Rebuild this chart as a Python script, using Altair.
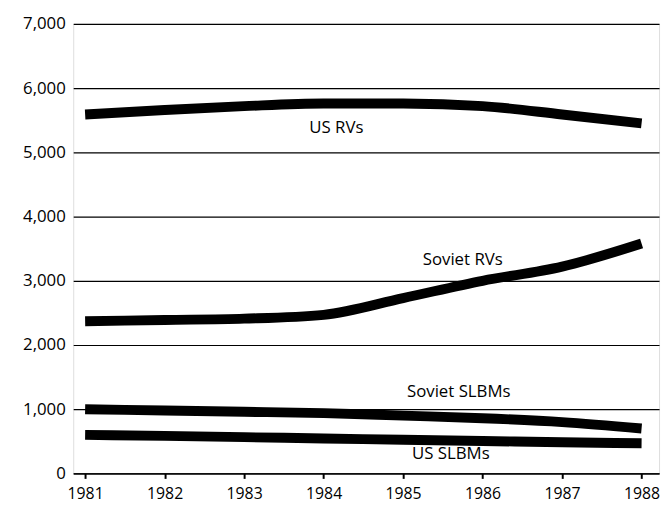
import altair as alt
import pandas as pd

years = [1981, 1982, 1983, 1984, 1985, 1986, 1987, 1988]
us_rvs = [5590, 5660, 5720, 5760, 5760, 5720, 5590, 5450]
soviet_rvs = [2370, 2390, 2410, 2470, 2730, 3000, 3220, 3580]
soviet_slbms = [1000, 980, 960, 940, 900, 860, 800, 700]
us_slbms = [600, 585, 565, 545, 525, 505, 485, 470]

series_names = ["US RVs", "Soviet RVs", "Soviet SLBMs", "US SLBMs"]
label_years = [1984.16, 1985.75, 1985.7, 1985.6]
label_values = [5385, 3330, 1260, 300]

rows = []
for name, vals in zip(series_names, [us_rvs, soviet_rvs, soviet_slbms, us_slbms]):
    for y, v in zip(years, vals):
        rows.append({"series": name, "year": y, "value": v})
df = pd.DataFrame(rows)
labels = pd.DataFrame({"series": series_names, "year": label_years, "value": label_values})

FONT = "Open Sans"

x_scale = alt.Scale(domain=[1980.85, 1988.22], nice=False, zero=False)
y_scale = alt.Scale(domain=[0, 7000], nice=False)

lines = alt.Chart(df).mark_line(
    color="black", strokeWidth=10, interpolate="monotone", strokeCap="butt"
).encode(
    x=alt.X("year:Q", scale=x_scale,
            axis=alt.Axis(values=years, format="d", title=None, grid=False,
                          domain=True, domainColor="black", domainWidth=1.3,
                          ticks=True, tickSize=5, tickColor="black", tickWidth=2,
                          labelFont=FONT, labelFontSize=16, labelColor="black",
                          labelPadding=7)),
    y=alt.Y("value:Q", scale=y_scale,
            axis=alt.Axis(values=[0, 1000, 2000, 3000, 4000, 5000, 6000, 7000],
                          format=",d", title=None, grid=True, gridColor="black",
                          gridWidth=1.2, gridOpacity=1, domain=False, ticks=False,
                          labelFont=FONT, labelFontSize=17, labelColor="black",
                          labelPadding=8)),
    detail="series:N",
)

text = alt.Chart(labels).mark_text(
    font=FONT, fontSize=17, color="black", align="center", baseline="middle"
).encode(
    x=alt.X("year:Q", scale=x_scale),
    y=alt.Y("value:Q", scale=y_scale),
    text="series:N",
)

chart = alt.layer(lines, text).properties(
    width=593, height=455,
    autosize=alt.AutoSizeParams(type="none"),
    padding={"left": 66, "top": 13, "right": 5, "bottom": 43},
).configure_view(stroke=None).configure(background="white")

chart.save("out.html", embed_options={"renderer": "svg", "actions": False})
